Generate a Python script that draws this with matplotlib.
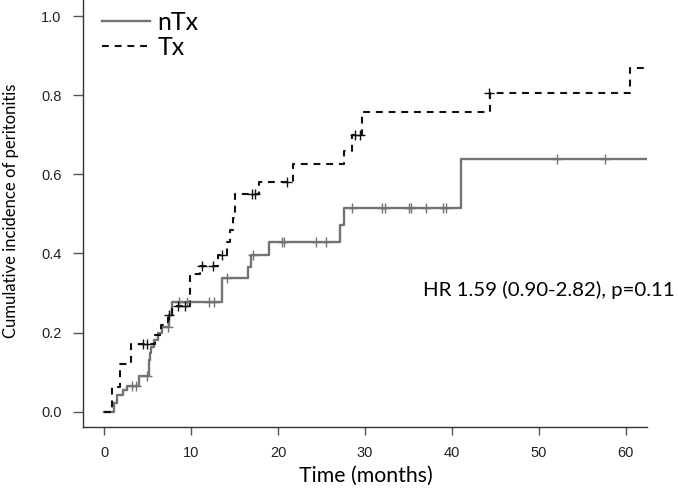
import matplotlib
matplotlib.use("Agg")
import matplotlib.pyplot as plt

# step curves: event times (months) and cumulative incidence after each step
ntx_time = [0, 1.1, 1.5, 2.1, 2.6, 4.0, 5.1, 5.2, 5.3, 5.4, 5.7, 6.2, 6.6, 7.5, 7.8,
            13.5, 16.5, 16.9, 19.0, 27.1, 27.6, 41.1, 62.4]
ntx_inc = [0, 0.023, 0.042, 0.055, 0.065, 0.089, 0.11, 0.13, 0.148, 0.164, 0.18, 0.20,
           0.215, 0.245, 0.278, 0.337, 0.367, 0.396, 0.43, 0.472, 0.516, 0.638, 0.638]

tx_time = [0, 0.85, 1.8, 3.1, 5.8, 6.5, 7.3, 7.8, 9.9, 11.0, 13.1, 14.1, 14.5, 14.8,
           15.0, 17.8, 21.75, 27.6, 28.5, 29.7, 44.4, 60.5, 62.4]
tx_inc = [0, 0.063, 0.12, 0.17, 0.195, 0.22, 0.245, 0.266, 0.347, 0.368, 0.396, 0.43,
          0.46, 0.49, 0.55, 0.582, 0.626, 0.66, 0.70, 0.757, 0.805, 0.868, 0.868]

# censored observations
ntx_cens_t = [3.2, 3.6, 4.9, 7.3, 8.6, 9.5, 12.0, 12.6, 14.1, 17.1, 20.4, 20.7, 24.4,
              25.5, 28.5, 32.0, 32.3, 35.1, 35.3, 37.0, 39.0, 39.3, 52.1, 57.6]
ntx_cens_v = [0.065, 0.065, 0.089, 0.215, 0.278, 0.278, 0.278, 0.278, 0.337, 0.396,
              0.43, 0.43, 0.43, 0.43, 0.516, 0.516, 0.516, 0.516, 0.516, 0.516, 0.516,
              0.516, 0.638, 0.638]
tx_cens_t = [4.5, 4.9, 7.4, 8.5, 9.3, 11.2, 12.5, 13.5, 17.0, 17.3, 21.0, 28.8, 29.4, 44.3]
tx_cens_v = [0.17, 0.17, 0.245, 0.266, 0.266, 0.368, 0.368, 0.396, 0.55, 0.55, 0.582,
             0.70, 0.70, 0.805]

x_ticks = [0, 10, 20, 30, 40, 50, 60]
y_ticks = [0.0, 0.2, 0.4, 0.6, 0.8, 1.0]

grey = "#737373"
dark = "#111111"

fig = plt.figure(figsize=(6.78, 4.90), dpi=100)
ax = fig.add_axes([83 / 678, 1 - 426.7 / 490, (646.7 - 83) / 678, 426.7 / 490])

l1, = ax.step(ntx_time, ntx_inc, where="post", color=grey, lw=1.7, label="nTx")
l2, = ax.step(tx_time, tx_inc, where="post", color=dark, lw=1.5, dashes=(3.3, 2.8), label="Tx")
ax.plot(ntx_cens_t, ntx_cens_v, ls="none", marker="+", ms=7.5, mew=1.0, color=grey)
ax.plot(tx_cens_t, tx_cens_v, ls="none", marker="+", ms=7.5, mew=1.0, color=dark)

ax.set_xlim(-2.45, 62.42)
ax.set_ylim(-0.038, 1.041)
ax.set_xticks(x_ticks)
ax.set_yticks(y_ticks)
ax.set_xticklabels([str(v) for v in x_ticks])
ax.set_yticklabels([f"{v:.1f}" for v in y_ticks])
for s in ["top", "right"]:
    ax.spines[s].set_visible(False)
for s in ["left", "bottom"]:
    ax.spines[s].set_color("#333333")
    ax.spines[s].set_linewidth(1.0)
ax.tick_params(axis="x", direction="out", length=6, width=1, color="#555555",
               pad=8, labelsize=10.5, labelcolor="#222222")
ax.tick_params(axis="y", direction="out", length=7.5, width=1, color="#555555",
               pad=8, labelsize=10.5, labelcolor="#222222")
for lab in ax.get_xticklabels() + ax.get_yticklabels():
    lab.set_family(["Liberation Sans", "DejaVu Sans"])

fig.text(366 / 678, 1 - 476 / 490, "Time (months)", ha="center", va="center",
         fontsize=15.3, family=["Lato", "DejaVu Sans"])
fig.text(11 / 678, 1 - 211 / 490, "Cumulative incidence of peritonitis", rotation=90,
         ha="center", va="center", fontsize=12, family=["Lato", "DejaVu Sans"])
fig.text(549 / 678, 1 - 290 / 490, "HR 1.59 (0.90-2.82), p=0.11", ha="center",
         va="center", fontsize=14.7, family=["Lato", "DejaVu Sans"])

leg = ax.legend(handles=[l1, l2], loc="upper left", bbox_to_anchor=(102 / 678, 1 - 11 / 490),
                bbox_transform=fig.transFigure, frameon=False,
                handlelength=1.9, handletextpad=0.32, labelspacing=0.08, borderpad=0,
                borderaxespad=0, prop={"family": ["Lato", "DejaVu Sans"], "size": 18})

fig.savefig("out.png", dpi=100)
